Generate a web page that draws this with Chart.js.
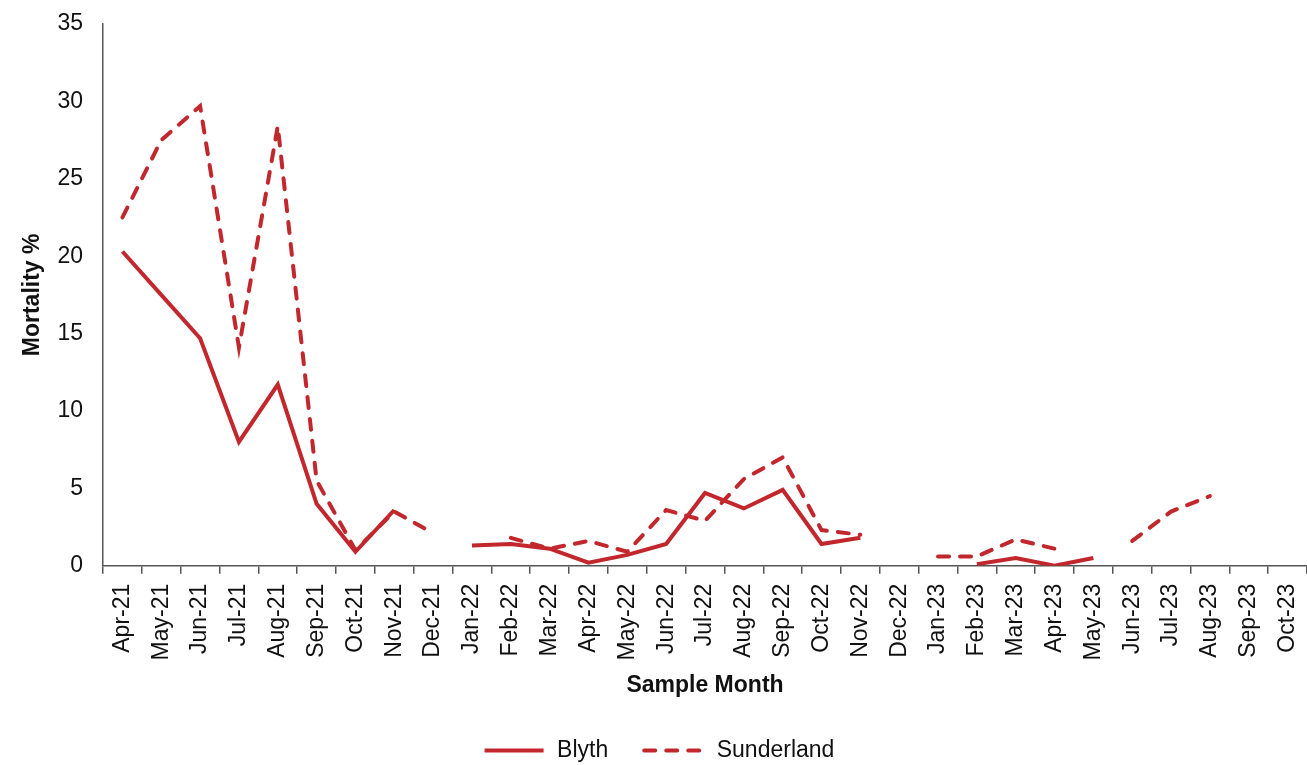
<!DOCTYPE html>
<html>
<head>
<meta charset="utf-8">
<script src="https://cdn.jsdelivr.net/npm/chart.js@4"></script>
<style>
  html, body { margin: 0; padding: 0; background: #fff; }
  #wrap { width: 1307px; height: 765px; position: relative; }
</style>
</head>
<body>
<div id="wrap"><canvas id="chart"></canvas></div>
<script>
// sample months, Apr-21 .. Oct-23
const months = [
  "Apr-21", "May-21", "Jun-21", "Jul-21", "Aug-21", "Sep-21", "Oct-21", "Nov-21", "Dec-21",
  "Jan-22", "Feb-22", "Mar-22", "Apr-22", "May-22", "Jun-22", "Jul-22", "Aug-22", "Sep-22", "Oct-22", "Nov-22", "Dec-22",
  "Jan-23", "Feb-23", "Mar-23", "Apr-23", "May-23", "Jun-23", "Jul-23", "Aug-23", "Sep-23", "Oct-23"
]

// mortality % (null = no sample)
const blyth = [
  20.3, 17.5, 14.7, 8.0, 11.7, 4.0, 0.9, 3.6, null,
  1.3, 1.4, 1.1, 0.2, 0.7, 1.4, 4.7, 3.7, 4.9, 1.4, 1.8, null,
  null, 0.1, 0.5, 0.0, 0.5, null, null, null, null, null
]
const sunderland = [
  22.5, 27.5, 29.7, 14.1, 28.4, 5.5, 1.0, 3.5, 2.1,
  null, 1.8, 1.1, 1.6, 0.9, 3.6, 2.9, 5.6, 7.0, 2.3, 2.0, null,
  0.6, 0.6, 1.7, 1.1, null, 1.6, 3.5, 4.5, null, null
]

const yTicks = [0, 5, 10, 15, 20, 25, 30, 35]

const red = "#C1272D"
const axisColor = "#555555"
const fontSize = 23

Chart.defaults.font.family = "'Liberation Sans', Arial, sans-serif"
Chart.defaults.color = "#111"

// legend samples drawn as plain (dashed) lines, since point-style legends ignore dashes
const legendLines = {
  id: "legendLines",
  afterDraw(chart) {
    const legend = chart.legend
    if (!legend || !legend.legendHitBoxes) return
    const c = chart.ctx
    const boxW = legend.options.labels.boxWidth
    legend.legendHitBoxes.forEach((hb, i) => {
      const ds = chart.data.datasets[i]
      const y = hb.top + fontSize / 2
      c.save()
      c.strokeStyle = ds.borderColor
      c.lineWidth = ds.borderWidth
      c.lineCap = ds.borderCapStyle || "butt"
      c.setLineDash(ds.borderDash || [])
      c.beginPath()
      c.moveTo(hb.left + 2, y)
      c.lineTo(hb.left + boxW - 2, y)
      c.stroke()
      c.restore()
    })
  },
}

const ctx = document.getElementById("chart").getContext("2d")

new Chart(ctx, {
  type: "line",
  data: {
    labels: months,
    datasets: [
      {
        label: "Blyth",
        data: blyth,
        borderColor: red,
        backgroundColor: red,
        borderWidth: 4,
        pointRadius: 0,
        tension: 0,
        spanGaps: false,
        borderJoinStyle: "miter",
      },
      {
        label: "Sunderland",
        data: sunderland,
        borderColor: red,
        backgroundColor: red,
        borderWidth: 4,
        borderDash: [11, 11],
        borderCapStyle: "round",
        pointRadius: 0,
        tension: 0,
        spanGaps: false,
        borderJoinStyle: "miter",
      },
    ],
  },
  options: {
    responsive: true,
    maintainAspectRatio: false,
    animation: false,
    layout: {
      padding: { left: 10, right: 0, top: 24, bottom: -7 },
    },
    scales: {
      x: {
        type: "category",
        offset: true,
        afterFit: (scale) => {
          scale.paddingLeft = 0
          scale.paddingRight = 0
        },
        grid: {
          display: true,
          offset: true,
          drawOnChartArea: false,
          drawTicks: true,
          tickLength: 8,
          color: axisColor,
          lineWidth: 1.5,
        },
        border: { display: true, color: axisColor, width: 1.5 },
        ticks: {
          autoSkip: false,
          maxRotation: 90,
          minRotation: 90,
          padding: 10,
          font: { size: fontSize },
          color: "#111",
        },
        title: {
          display: true,
          text: "Sample Month",
          font: { size: fontSize, weight: "bold" },
          color: "#111",
          padding: { top: 1, bottom: 6 },
        },
      },
      y: {
        min: 0,
        max: 35,
        afterBuildTicks: (scale) => {
          scale.ticks = yTicks.map((v) => ({ value: v }))
        },
        afterFit: (scale) => {
          scale.width = 93
          scale.paddingTop = 0
          scale.paddingBottom = 0
        },
        grid: { display: false, drawTicks: false },
        border: { display: true, color: axisColor, width: 1.5 },
        ticks: {
          padding: 20,
          font: { size: fontSize },
          color: "#111",
        },
        title: {
          display: true,
          text: "Mortality %",
          font: { size: fontSize, weight: "bold" },
          color: "#111",
          padding: { top: 9, bottom: 10 },
        },
      },
    },
    plugins: {
      legend: {
        position: "bottom",
        labels: {
          boxWidth: 63,
          boxHeight: 4,
          padding: 34,
          font: { size: fontSize },
          color: "#111",
          generateLabels: (chart) =>
            Chart.defaults.plugins.legend.labels.generateLabels(chart).map((item) => ({
              ...item,
              fillStyle: "rgba(0,0,0,0)",
              strokeStyle: "rgba(0,0,0,0)",
              lineWidth: 0,
            })),
        },
      },
      tooltip: { enabled: false },
    },
  },
  plugins: [legendLines],
})
</script>
</body>
</html>
